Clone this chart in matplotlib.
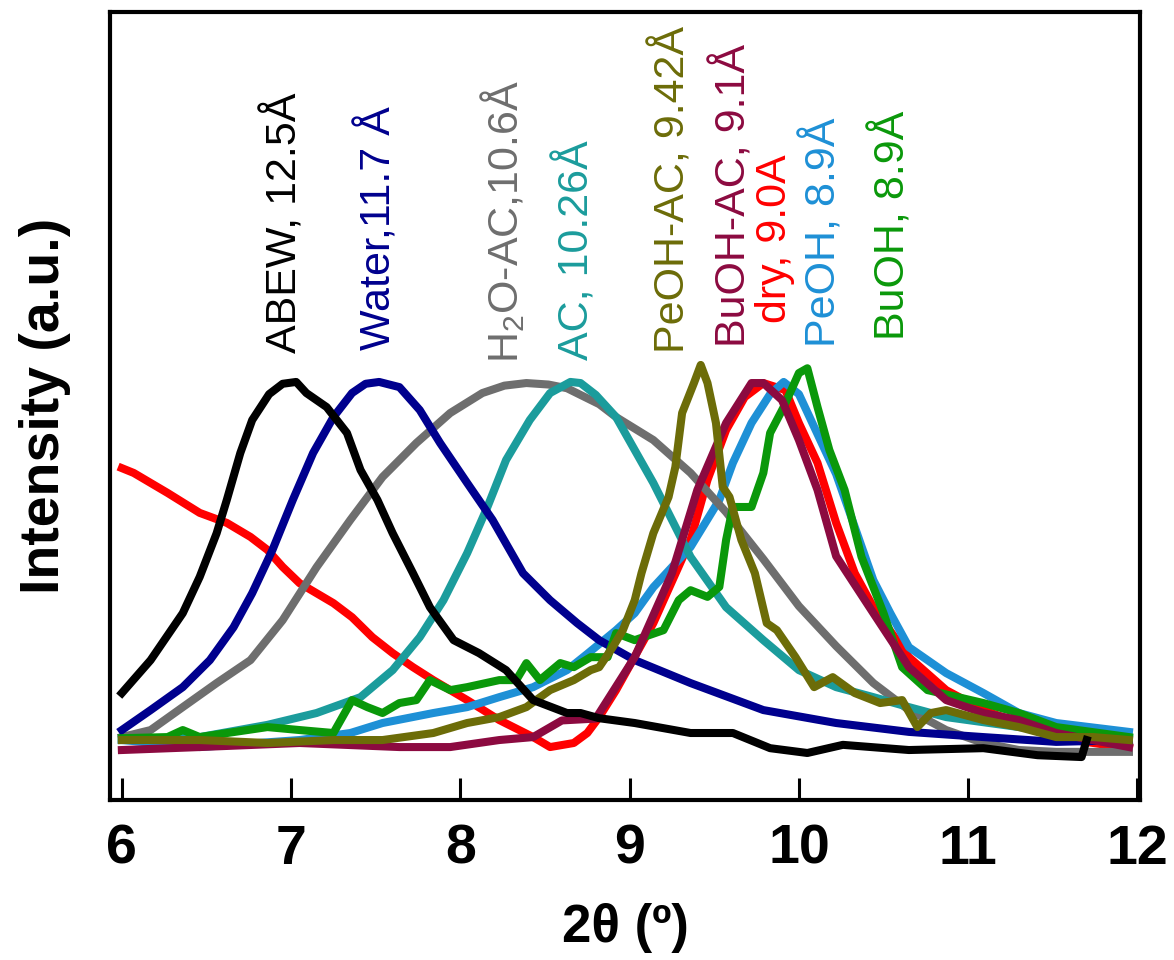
import matplotlib
matplotlib.use("Agg")
import matplotlib.pyplot as plt

# 2theta (deg) and intensity (a.u.)
abew_x = [6.0, 6.17, 6.36, 6.46, 6.56, 6.62, 6.70, 6.77, 6.87, 6.95, 7.03, 7.09, 7.21, 7.33, 7.41,
          7.51, 7.60, 7.72, 7.82, 7.96, 8.11, 8.27, 8.43, 8.63, 8.71, 8.82, 9.03, 9.36, 9.61, 9.83,
          10.05, 10.26, 10.65, 11.09, 11.41, 11.67, 11.70]
abew_y = [0.154, 0.243, 0.370, 0.468, 0.586, 0.676, 0.803, 0.892, 0.962, 0.990, 0.995, 0.965, 0.927,
          0.857, 0.757, 0.676, 0.586, 0.478, 0.386, 0.297, 0.262, 0.216, 0.135, 0.100, 0.100, 0.086,
          0.073, 0.046, 0.046, 0.005, -0.008, 0.014, 0.0, 0.005, -0.014, -0.019, 0.027]

water_x = [6.0, 6.17, 6.36, 6.52, 6.66, 6.77, 6.89, 7.01, 7.13, 7.25, 7.36, 7.44, 7.52, 7.64, 7.76,
           7.88, 8.04, 8.19, 8.37, 8.53, 8.69, 8.82, 9.03, 9.36, 9.79, 10.22, 10.65, 11.09, 11.52,
           11.95]
water_y = [0.054, 0.108, 0.170, 0.243, 0.332, 0.424, 0.541, 0.676, 0.803, 0.900, 0.965, 0.990, 0.995,
           0.981, 0.919, 0.830, 0.722, 0.622, 0.478, 0.405, 0.343, 0.297, 0.243, 0.181, 0.108, 0.073,
           0.049, 0.035, 0.022, 0.027]

h2oac_x = [6.0, 6.17, 6.36, 6.56, 6.76, 6.95, 7.15, 7.35, 7.54, 7.74, 7.94, 8.13, 8.26, 8.39, 8.52,
           8.63, 8.82, 8.92, 9.14, 9.36, 9.57, 9.79, 10.0, 10.22, 10.44, 10.65, 10.87, 11.09, 11.30,
           11.52, 11.95]
h2oac_y = [0.035, 0.054, 0.116, 0.181, 0.243, 0.351, 0.494, 0.622, 0.738, 0.830, 0.911, 0.965, 0.985,
           0.992, 0.988, 0.978, 0.935, 0.900, 0.838, 0.749, 0.643, 0.516, 0.389, 0.281, 0.181, 0.108,
           0.054, 0.019, 0.0, -0.005, -0.005]

ac_x = [6.0, 6.46, 6.86, 7.15, 7.41, 7.60, 7.76, 7.90, 8.04, 8.16, 8.27, 8.41, 8.53, 8.65, 8.71,
        8.80, 8.92, 9.14, 9.36, 9.57, 9.79, 10.0, 10.22, 10.44, 10.65, 10.87, 11.30, 11.74, 11.95]
ac_y = [0.027, 0.035, 0.068, 0.100, 0.143, 0.216, 0.305, 0.405, 0.532, 0.657, 0.784, 0.892, 0.965,
        0.995, 0.992, 0.960, 0.900, 0.722, 0.522, 0.386, 0.297, 0.216, 0.170, 0.143, 0.116, 0.089,
        0.062, 0.041, 0.032]

dry_x = [6.0, 6.07, 6.27, 6.46, 6.62, 6.76, 6.86, 6.95, 7.05, 7.15, 7.25, 7.36, 7.48, 7.60, 7.72,
         7.84, 8.04, 8.23, 8.43, 8.53, 8.67, 8.75, 8.82, 8.92, 9.14, 9.36, 9.46, 9.57, 9.68, 9.79,
         9.92, 10.0, 10.11, 10.22, 10.33, 10.44, 10.65, 10.87, 11.09, 11.30, 11.62, 11.95]
dry_y = [0.762, 0.749, 0.695, 0.641, 0.614, 0.576, 0.541, 0.495, 0.451, 0.424, 0.397, 0.359, 0.305,
         0.262, 0.224, 0.189, 0.135, 0.081, 0.035, 0.008, 0.019, 0.046, 0.089, 0.162, 0.343, 0.568,
         0.730, 0.865, 0.954, 0.992, 0.973, 0.884, 0.776, 0.614, 0.478, 0.386, 0.251, 0.162, 0.108,
         0.073, 0.027, 0.005]

buohac_x = [6.0, 6.46, 7.05, 7.64, 7.94, 8.23, 8.43, 8.60, 8.80, 9.03, 9.25, 9.40, 9.57, 9.72, 9.79,
            9.90, 10.0, 10.11, 10.22, 10.44, 10.65, 10.87, 11.09, 11.30, 11.52, 11.95]
buohac_y = [0.0, 0.008, 0.019, 0.008, 0.008, 0.027, 0.035, 0.080, 0.085, 0.251, 0.478, 0.703, 0.884,
            0.992, 0.992, 0.946, 0.838, 0.703, 0.524, 0.370, 0.224, 0.135, 0.100, 0.081, 0.046, 0.008]

peoh_x = [6.0, 6.46, 7.05, 7.35, 7.54, 7.84, 8.04, 8.23, 8.43, 8.63, 8.75, 8.92, 9.03, 9.14, 9.36,
          9.53, 9.61, 9.72, 9.83, 9.91, 10.0, 10.11, 10.22, 10.33, 10.44, 10.54, 10.65, 10.87, 11.09,
          11.30, 11.52, 11.95]
peoh_y = [0.027, 0.008, 0.027, 0.046, 0.073, 0.100, 0.116, 0.143, 0.170, 0.216, 0.260, 0.324, 0.370,
          0.440, 0.549, 0.676, 0.776, 0.884, 0.962, 0.995, 0.962, 0.854, 0.746, 0.603, 0.459, 0.370,
          0.278, 0.208, 0.154, 0.100, 0.073, 0.049]

buoh_x = [6.0, 6.27, 6.36, 6.46, 6.86, 7.05, 7.25, 7.36, 7.45, 7.54, 7.64, 7.74, 7.82, 7.94, 8.04,
          8.23, 8.33, 8.39, 8.47, 8.59, 8.67, 8.77, 8.87, 8.92, 9.03, 9.20, 9.29, 9.36, 9.46, 9.53,
          9.57, 9.61, 9.72, 9.79, 9.83, 9.91, 10.0, 10.05, 10.11, 10.18, 10.27, 10.37, 10.50, 10.61,
          10.76, 11.09, 11.30, 11.52, 11.95]
buoh_y = [0.032, 0.035, 0.054, 0.035, 0.062, 0.054, 0.046, 0.135, 0.116, 0.100, 0.127, 0.135, 0.189,
          0.162, 0.170, 0.189, 0.189, 0.235, 0.189, 0.235, 0.224, 0.251, 0.251, 0.316, 0.297, 0.324,
          0.405, 0.432, 0.414, 0.441, 0.568, 0.657, 0.657, 0.749, 0.857, 0.927, 1.019, 1.032, 0.927,
          0.811, 0.703, 0.522, 0.370, 0.224, 0.162, 0.127, 0.100, 0.062, 0.035]

peohac_x = [6.0, 6.46, 6.86, 7.25, 7.54, 7.84, 8.04, 8.23, 8.39, 8.53, 8.67, 8.77, 8.82, 8.90, 8.96,
            9.03, 9.07, 9.14, 9.23, 9.27, 9.31, 9.38, 9.42, 9.46, 9.51, 9.55, 9.59, 9.66, 9.74, 9.81,
            9.87, 9.98, 10.09, 10.20, 10.33, 10.48, 10.61, 10.70, 10.78, 10.87, 11.09, 11.30, 11.52,
            11.74, 11.95]
peohac_y = [0.027, 0.027, 0.019, 0.027, 0.027, 0.046, 0.073, 0.089, 0.116, 0.162, 0.189, 0.216, 0.224,
            0.278, 0.324, 0.405, 0.478, 0.586, 0.684, 0.765, 0.911, 0.992, 1.041, 0.992, 0.884, 0.711,
            0.684, 0.568, 0.478, 0.343, 0.324, 0.251, 0.170, 0.197, 0.154, 0.127, 0.135, 0.062, 0.100,
            0.108, 0.081, 0.062, 0.035, 0.035, 0.027]

# label text, x position, bottom of text (data units)
labels = ["ABEW, 12.5Å", "Water,11.7 Å", "H$_2$O-AC,10.6Å", "AC, 10.26Å", "PeOH-AC, 9.42Å",
          "BuOH-AC, 9.1Å", "dry, 9.0A", "PeOH, 8.9Å", "BuOH, 8.9Å"]
label_x = [6.96, 7.51, 8.25, 8.68, 9.25, 9.61, 9.86, 10.14, 10.55]
label_y = [1.073, 1.081, 1.046, 1.054, 1.073, 1.089, 1.154, 1.089, 1.108]

c_abew = "#000000"
c_water = "#00008e"
c_h2oac = "#6e6e6e"
c_ac = "#1b9c9c"
c_dry = "#ff0000"
c_buohac = "#8c0a40"
c_peoh = "#1e90d6"
c_buoh = "#0a980a"
c_peohac = "#6c6c08"
label_colors = [c_abew, c_water, c_h2oac, c_ac, c_peohac, c_buohac, c_dry, c_peoh, c_buoh]


def main():
    plt.rcParams['font.family'] = ['Liberation Sans', 'DejaVu Sans']
    plt.rcParams['mathtext.default'] = 'regular'

    fig = plt.figure(figsize=(11.74, 9.6), dpi=100)
    ax = fig.add_axes([0.0937, 0.1667, 0.8773, 0.8208])

    lw = 5.8
    ax.plot(dry_x, dry_y, color=c_dry, lw=lw)
    ax.plot(peoh_x, peoh_y, color=c_peoh, lw=lw)
    ax.plot(h2oac_x, h2oac_y, color=c_h2oac, lw=lw)
    ax.plot(ac_x, ac_y, color=c_ac, lw=lw)
    ax.plot(water_x, water_y, color=c_water, lw=lw)
    ax.plot(buoh_x, buoh_y, color=c_buoh, lw=lw)
    ax.plot(buohac_x, buohac_y, color=c_buohac, lw=lw)
    ax.plot(peohac_x, peohac_y, color=c_peohac, lw=lw)
    ax.plot(abew_x, abew_y, color=c_abew, lw=lw)

    for txt, x, y, c in zip(labels, label_x, label_y, label_colors):
        ax.text(x, y, txt, color=c, fontsize=31, rotation=90, ha='center', va='bottom')

    ax.set_xlim(5.93, 12.015)
    ax.set_ylim(-0.135, 1.995)
    ax.set_xticks([6, 7, 8, 9, 10, 11, 12])
    ax.set_yticks([])
    ax.tick_params(axis='x', direction='in', length=16, width=2.2, pad=17, labelsize=40)
    for lab in ax.get_xticklabels():
        lab.set_fontweight('bold')
    for sp in ax.spines.values():
        sp.set_linewidth(3)

    ax.set_xlabel("2θ (º)", fontsize=38, fontweight='bold', labelpad=20)
    ax.set_ylabel("Intensity (a.u.)", fontsize=40, fontweight='bold', labelpad=28)

    plt.savefig("out.png", dpi=100)


if __name__ == '__main__':
    main()
